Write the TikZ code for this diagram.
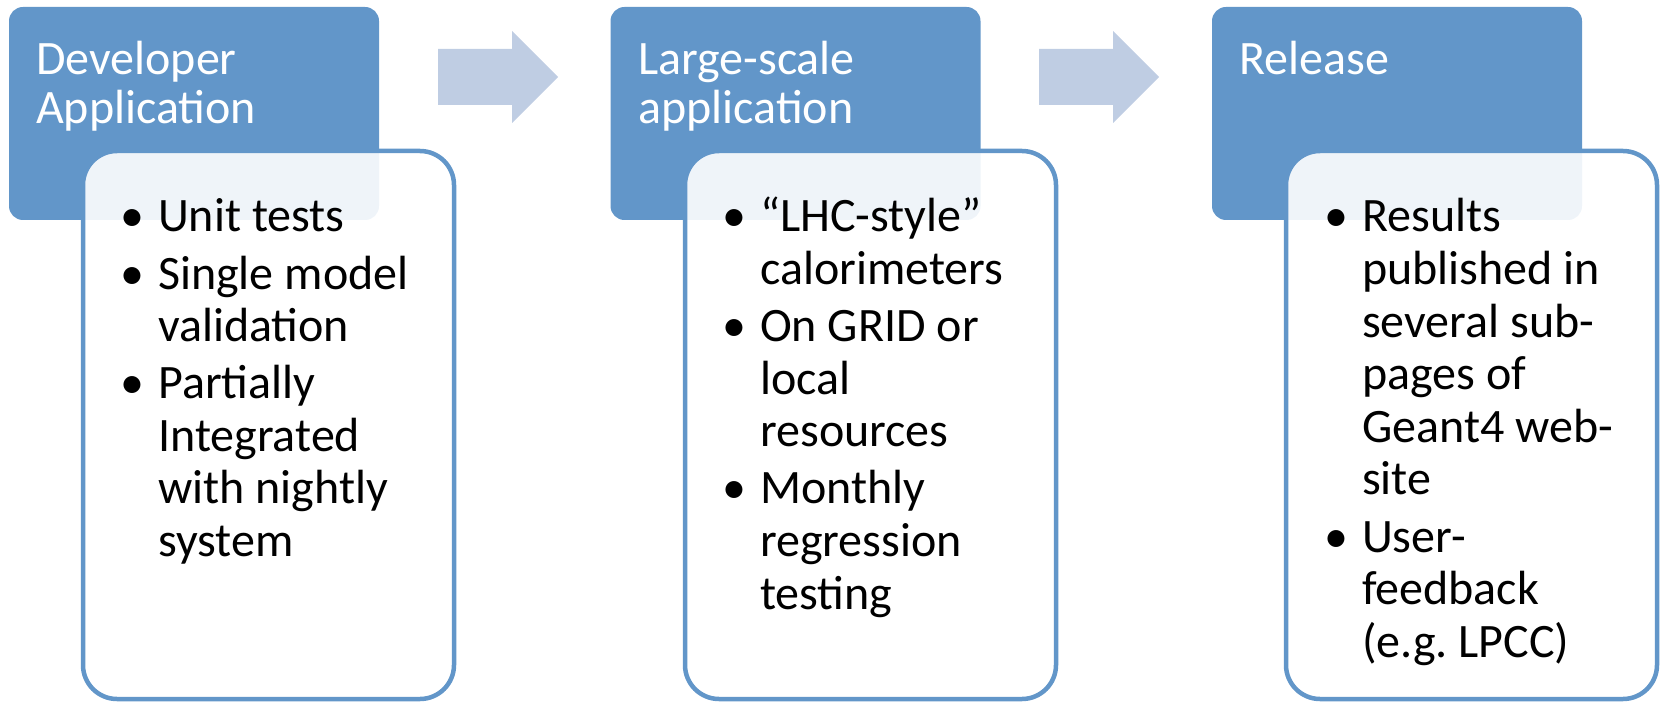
\documentclass[tikz,border=0pt]{standalone}
\usepackage{fontspec}
\setmainfont{Carlito}
\definecolor{hdrblue}{RGB}{98,150,201}
\definecolor{arrowblue}{RGB}{191,205,227}
% bullet hung to the left of the first line of an item
\newcommand\bpt{\leavevmode\llap{\textbullet\hspace{14pt}}}
\frenchspacing
\begin{document}
\begin{tikzpicture}[x=1pt,y=-1pt,
  header/.style={fill=hdrblue, draw=none, rounded corners=14pt, anchor=north west,
    inner sep=0pt, outer sep=0pt, minimum width=370pt, minimum height=213pt},
  content/.style={draw=hdrblue, line width=4.5pt, fill=white, fill opacity=0.9,
    rounded corners=34pt, anchor=north west, inner sep=0pt, outer sep=0pt,
    minimum width=371pt, minimum height=548pt},
  hdrtext/.style={anchor=base west, inner sep=0pt, text=white,
    font=\fontsize{48}{49}\selectfont},
  bodytext/.style={anchor=base west, inner sep=0pt, text=black,
    font=\fontsize{48}{52.6}\selectfont},
  blockarrow/.style={fill=arrowblue, draw=none}]
\useasboundingbox (0,0) rectangle (1663,703);

% stage headers
\node[header] (h1) at (9,7) {};
\node[header] (h2) at (610.5,7) {};
\node[header] (h3) at (1212,7) {};

% arrows between stages
\fill[blockarrow] (438,49) -- (512,49) -- (512,31) -- (558,77) -- (512,123)
  -- (512,105) -- (438,105) -- cycle;
\fill[blockarrow] (1039,49) -- (1113,49) -- (1113,31) -- (1159,77) -- (1113,123)
  -- (1113,105) -- (1039,105) -- cycle;

% detail boxes
\node[content] (c1) at (83,151) {};
\node[content] (c2) at (685,151) {};
\node[content] (c3) at (1286,151) {};

% header titles
\node[hdrtext] (t1) at (36,75) {\parbox[t]{340pt}{Developer\\Application}};
\node[hdrtext] (t2) at (638,75) {\parbox[t]{340pt}{Large-scale\\application}};
\node[hdrtext] (t3) at (1239,75) {\parbox[t]{340pt}{Release}};

% bullet lists
\node[bodytext] (b1) at (158,232) {\parbox[t]{290pt}{%
  \bpt Unit tests\\[4.5pt]
  \bpt Single model\\validation\\[4.5pt]
  \bpt Partially\\Integrated\\with nightly\\system}};
\node[bodytext] (b2) at (760,232) {\parbox[t]{290pt}{%
  \bpt “LHC-style”\\calorimeters\\[4.5pt]
  \bpt On GRID or\\local\\resources\\[4.5pt]
  \bpt Monthly\\regression\\testing}};
\node[bodytext] (b3) at (1362,232) {\parbox[t]{290pt}{%
  \bpt Results\\published in\\several sub-\\pages of\\Geant4 web-\\site\\[4.5pt]
  \bpt User-\\feedback\\(e.g. LPCC)}};
\end{tikzpicture}
\end{document}
